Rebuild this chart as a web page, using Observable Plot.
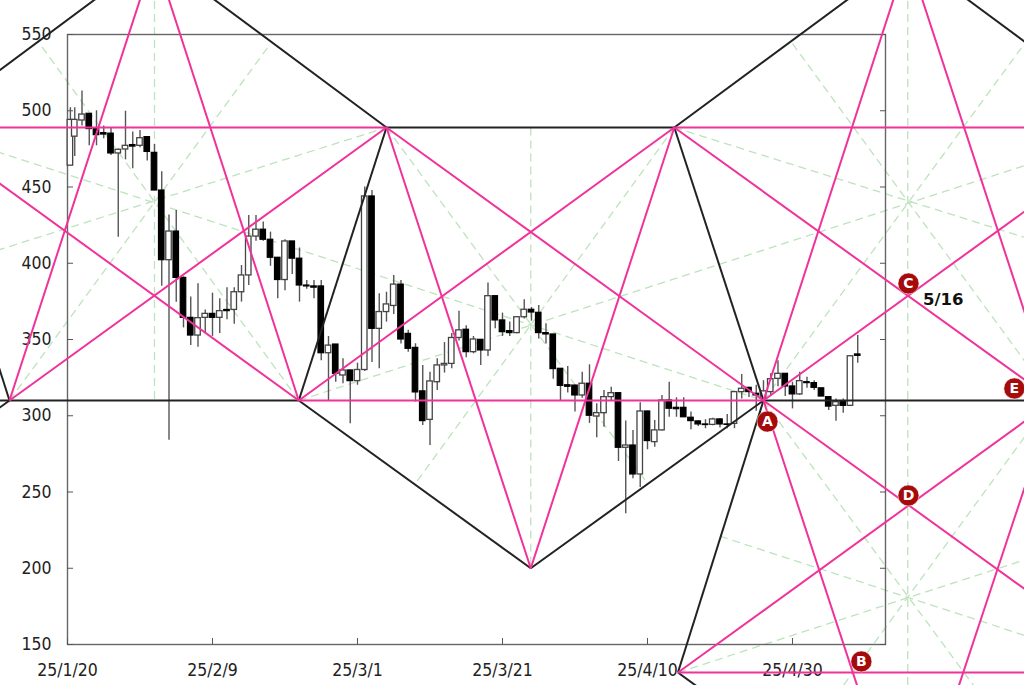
<!DOCTYPE html>
<html>
<head>
<meta charset="utf-8">
<script src="https://cdn.jsdelivr.net/npm/d3@7"></script>
<script src="https://cdn.jsdelivr.net/npm/@observablehq/plot@0.6"></script>
<style>
html,body{margin:0;padding:0;background:#fff}
svg{display:block}
</style>
</head>
<body>
<div id="chart"></div>
<script>
const opens = [464,483,493.6,498,488,485.3,485,472,474.6,477.5,477,482.7,472.4,447.7,402,420.8,390.4,364.2,352.6,364.2,
366.8,364.2,369.4,369.4,381,392,417.5,422,415.4,403.6,389,414.3,403,385.4,384.8,384.8,341,346.7,326.4,329.7,
322.7,330,443.8,357,368,372,386,353.7,344.5,316,297.3,322,333,334,351,356.4,341.7,349.8,342.8,378.4,
362.5,355.5,354.2,364.6,369.5,367.5,354.2,353.3,330.8,320,319.8,313.3,321,299.5,301.7,312.2,314.8,279,280.5,261.5,
302.8,282.7,290.4,310,305.2,305.2,298.7,296.3,294.3,294,297.6,294.3,294.7,315.5,318.3,314.4,311,315.5,324.2,327.5,
319.2,314,322,321.4,318,312.2,306.5,309.6,306.5,340.2];
const closes = [494,494,497.5,488,484,484.4,472,474.4,477,476.5,482,473,447.7,402,420.8,390.4,364.2,352.6,364,366.8,
364.2,368.6,368.6,381,392,417.5,422,415.4,403.6,389,414.3,403,385.4,384.8,384,341,346,327.5,329.7,322.7,
330,443.8,357,368,373,386,350,343.9,315.3,296.5,322.5,333,334,351,356,341.7,350,342.8,378.4,362.5,
354.8,354.2,364.6,369.5,367.7,354.2,353.3,330.6,319.6,319,313.3,321,300,301.7,312.2,314.8,279,280.5,261.5,302.8,
283.4,290.4,310,304.6,304.3,299,296.5,294.3,293.9,297.6,294.3,294,315.5,317.7,315.5,313.3,316,324,327.5,319.2,
314,322.7,321.4,318.3,312.6,306,308.9,306.5,339,339.3];
const highs = [502,502,513,498,500,490,489,475,499.7,486,487,483,478,460,431.7,434.6,391,377.8,386.5,369.4,
380.4,376.7,384,384,398.5,431.3,431.3,427,420.4,403.6,415.4,414.3,410,388.7,388.7,388.7,352,346.7,337.3,330,
334.5,450,447.7,380,381,392,388.7,356,347.2,333,328.6,337.3,348,354,368.6,359,352,350,387,378.6,
367.3,361.4,365,376,371,372.3,360.3,353.3,331,332.3,320,328.6,333.4,307.8,316.6,318.7,315,296.5,290.4,308.5,
303,296.9,313.3,322,311.8,311.8,302.4,296.5,297.4,298.4,298,300.9,316,327,318.7,320,323,327.5,336,327.5,
322,328.6,325.3,323,318,312.2,311,311,339.5,352.6];
const lows = [464,470,490,477,477,481.6,470.6,417,467.8,462,475.7,467,447.7,385,284,374.5,357.6,346,345,353.7,
352,354,363,360,374.5,385.4,414.5,414.5,398,376.7,382,392.6,374.5,383,376.7,336,310,322,321,294.7,
320,329,335,330.8,361.4,366.4,347,341.7,309,293.6,280.5,316.6,328,330.8,349,338,340.6,333,338.9,357,
352,352,353.7,363.5,362,350.4,347,324,309.6,315,302.4,311.5,295,285.5,292.5,310,270,235.7,258.7,253,
277.7,279.4,290,299,299,299,290.8,293,291.5,293.4,292,291.5,291.5,311,312,303,308,313,319,312.6,
304.5,313.3,318,316.6,312.6,303.4,296.4,301.7,306,334.5];

const xTickDays = [0,20,40,60,80,100];
const xTickLabels = ["25/1/20","25/2/9","25/3/1","25/3/21","25/4/10","25/4/30"];
const yTicks = [150,200,250,300,350,400,450,500,550];

// Gann-style construction, as [day, price, day, price]; day counted from 25/1/20
const blackSegments = [
  [-20,489,12,602],[12,602,44,489],[44,489,83.7,489],[44,489,31.9,310],[83.7,489,96,310],
  [83.7,489,115.9,602],[115.9,602,148,489],[-20,489,-8,310],[-8,310,-40,200],
  [-20,310,31.9,310],[96,310,140,310],[31.9,310,63.9,200],[63.9,200,96,310],
  [96,310,84.2,131.6],[84.2,131.6,115.9,22]
];
const pinkSegments = [
  [-8,310,12,602],[12,602,31.9,310],[-8,310,44,489],[-20,489,31.9,310],[31.9,310,83.7,489],
  [44,489,96,310],[44,489,63.9,200],[83.7,489,63.9,200],[-20,489,44,489],[83.7,489,140,489],
  [31.9,310,96,310],[96,310,115.9,602],[115.9,602,136,310],[83.7,489,136,310],[96,310,148,489],
  [96,310,115.9,22],[96,310,148,131.6],[84.2,131.6,136,310],[136,310,115.9,22],[84.2,131.6,140,131.6]
];
const greenSegments = [
  [12,572,12,310],[63.9,489,63.9,200],[115.9,572,115.9,123],
  [-20,489,96,310],[-20,393,44,489],[31.9,310,-4,545],[-8,310,28,544],
  [31.9,310,132,464],[44,489,80,255.6],[83.7,489,48,255.6],
  [96,310,132,544],[83.7,489,132,417],[100,544,132,336],
  [84.2,131.6,132,205.5],[90,221,132,156],[96,310,125,123],[132,286,107,123]
];
const markerLabels = ["A","B","C","D","E"];
const markerDays = [96.55,109.5,116,116,130.6];
const markerPrices = [296.2,138.9,386.7,247.7,317.9];

const t0 = Date.UTC(2025,0,20);
const dayToDate = d => new Date(t0 + d*864e5);
const candles = opens.map((o,i) => ({
  day: i === 0 ? 0.4 : i, open:o, close:closes[i], high:highs[i], low:lows[i], up: closes[i] >= o
}));
const markers = markerLabels.map((label,i) => ({label, day:markerDays[i], price:markerPrices[i]}));
const xTicks = xTickDays.map(dayToDate);
const xLabel = new Map(xTicks.map((d,i) => [+d, xTickLabels[i]]));

const link = (segs, o) => Plot.link(segs, {
  x1:s=>dayToDate(s[0]), y1:s=>s[1], x2:s=>dayToDate(s[2]), y2:s=>s[3], ...o
});
const body = (rows, o) => Plot.rect(rows, {
  x1:d=>dayToDate(d.day-0.38), x2:d=>dayToDate(d.day+0.38), y1:"open", y2:"close", ...o
});
const fontFamily = '"DejaVu Sans Condensed","DejaVu Sans",sans-serif';

const chart = Plot.plot({
  width:1024, height:685,
  marginLeft:67, marginRight:139, marginTop:34, marginBottom:41,
  style:{background:"#fff"},
  x:{type:"utc", domain:[dayToDate(0), dayToDate(112.83)], label:null},
  y:{domain:[150,550], label:null},
  marks:[
    link(greenSegments,{stroke:"#bde3bd", strokeWidth:1.3, strokeDasharray:"8,5"}),
    Plot.frame({stroke:"#666", strokeWidth:1.4}),
    Plot.axisX(xTicks,{anchor:"bottom", tickSize:-6, tickPadding:25, stroke:"#555", fill:"#222",
      tickFormat:d=>xLabel.get(+d), fontSize:17.5, fontFamily, label:null}),
    Plot.axisY(yTicks,{anchor:"left", tickSize:-6, tickPadding:22, stroke:"#555", fill:"#222",
      fontSize:17.5, fontFamily, label:null}),
    Plot.axisY(yTicks,{anchor:"right", tickSize:-6, stroke:"#555", text:null, label:null, tickFormat:()=>""}),
    Plot.ruleX(candles,{x:d=>dayToDate(d.day), y1:"low", y2:"high", stroke:"#555", strokeWidth:1.4}),
    body(candles.filter(d=>d.up),{fill:"#fff", stroke:"#444", strokeWidth:1.3}),
    body(candles.filter(d=>!d.up),{fill:"#000", stroke:"#000", strokeWidth:1.2}),
    link(blackSegments,{stroke:"#222", strokeWidth:2}),
    link(pinkSegments,{stroke:"#f0329a", strokeWidth:2}),
    Plot.dot(markers,{x:d=>dayToDate(d.day), y:"price", r:10.5, fill:"#a50b0b", stroke:"#fff", strokeWidth:0.5}),
    Plot.text(markers,{x:d=>dayToDate(d.day), y:"price", text:"label", fill:"#fff",
      fontSize:14, fontWeight:"bold", fontFamily:'"DejaVu Sans",sans-serif'}),
    Plot.text(["5/16"],{x:dayToDate(120.8), y:376.2, text:d=>d, fill:"#111",
      fontSize:16.5, fontWeight:"bold", fontFamily:'"DejaVu Sans",sans-serif'})
  ]
});
document.getElementById("chart").append(chart);
</script>
</body>
</html>
